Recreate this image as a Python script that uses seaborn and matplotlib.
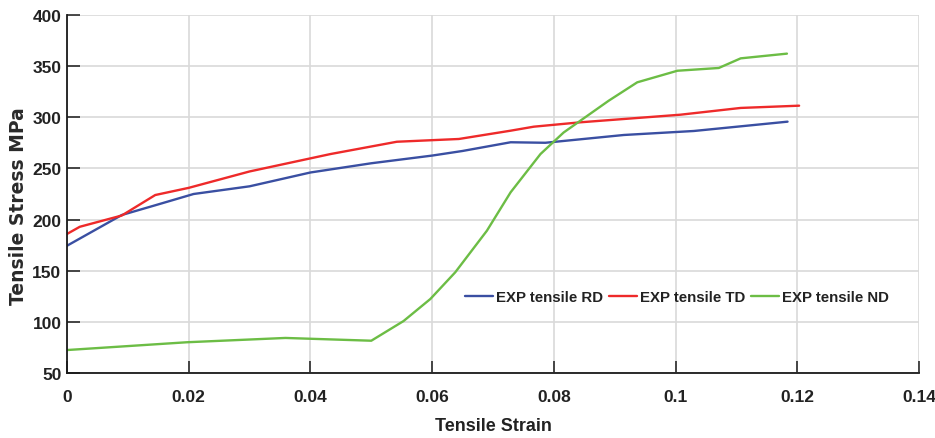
import matplotlib
matplotlib.use("Agg")
import matplotlib.pyplot as plt
import seaborn as sns
import pandas as pd

# ---- data ----
rd_strain = [0.0, 0.009, 0.0145, 0.0208, 0.030, 0.040, 0.050, 0.060, 0.065, 0.0729, 0.0786, 0.0915, 0.103, 0.1184]
rd_stress = [174.5, 204.5, 214.0, 225.0, 232.5, 246.0, 255.0, 262.5, 267.0, 275.5, 275.0, 282.6, 286.5, 295.6]

td_strain = [0.0, 0.0021, 0.009, 0.0145, 0.020, 0.030, 0.0433, 0.0542, 0.0644, 0.0729, 0.0767, 0.0844, 0.1008, 0.1107, 0.1203]
td_stress = [186.0, 193.0, 204.0, 224.0, 231.0, 247.0, 264.0, 276.0, 278.7, 286.8, 290.7, 295.0, 302.4, 309.0, 311.2]

nd_strain = [0.0, 0.0197, 0.0359, 0.050, 0.0553, 0.0597, 0.0638, 0.069, 0.0729, 0.0778, 0.0816, 0.089, 0.0937, 0.1003, 0.1071, 0.1107, 0.1183]
nd_stress = [72.7, 80.3, 84.5, 81.8, 101.0, 122.5, 148.6, 189.2, 226.7, 264.0, 285.0, 316.0, 334.0, 345.3, 348.0, 357.4, 362.0]

series_names = ["EXP tensile RD", "EXP tensile TD", "EXP tensile ND"]
x_ticks = [0, 0.02, 0.04, 0.06, 0.08, 0.1, 0.12, 0.14]
x_tick_labels = ["0", "0.02", "0.04", "0.06", "0.08", "0.1", "0.12", "0.14"]
y_ticks = [50, 100, 150, 200, 250, 300, 350, 400]

df = pd.concat([
    pd.DataFrame({"strain": rd_strain, "stress": rd_stress, "series": series_names[0]}),
    pd.DataFrame({"strain": td_strain, "stress": td_stress, "series": series_names[1]}),
    pd.DataFrame({"strain": nd_strain, "stress": nd_stress, "series": series_names[2]}),
], ignore_index=True)

sns.set_theme(style="white")
main_font = ["Liberation Sans", "DejaVu Sans"]
plt.rcParams["font.family"] = main_font

fig = plt.figure(figsize=(9.35, 4.39), dpi=100)
ax = fig.add_axes([67 / 935, (439 - 374.3) / 439, (919 - 67) / 935, (374.3 - 15.7) / 439])

palette = {series_names[0]: "#3a4fa2", series_names[1]: "#ee2a2a", series_names[2]: "#6cbd45"}
sns.lineplot(data=df, x="strain", y="stress", hue="series", palette=palette,
             sort=False, estimator=None, linewidth=1.7, ax=ax)

ax.set_xlim(0, 0.14)
ax.set_ylim(50, 400)
ax.set_xticks(x_ticks)
ax.set_xticklabels(x_tick_labels)
ax.set_yticks(y_ticks)

ax.grid(True, color="#d9d9d9", linewidth=1.2)
ax.set_axisbelow(True)
for s in ["top", "right"]:
    ax.spines[s].set_visible(False)
for s in ["left", "bottom"]:
    ax.spines[s].set_color("#1a1a1a")
    ax.spines[s].set_linewidth(1.3)

ax.tick_params(axis="both", direction="in", length=9, width=1.1, color="#1a1a1a",
               labelsize=12.5, labelcolor="#222222", left=True, bottom=True)
ax.tick_params(axis="x", pad=11)
ax.tick_params(axis="y", pad=4)
for lab in ax.get_xticklabels() + ax.get_yticklabels():
    lab.set_fontweight("bold")

ax.set_xlabel("Tensile Strain", fontsize=13, fontweight="bold", color="#222222", labelpad=10)
ax.set_ylabel("Tensile Stress MPa", fontsize=13.5, fontweight="bold", color="#2a2a2a",
              family=["DejaVu Sans"])
ax.yaxis.set_label_coords(-0.046, 0.469)

leg = ax.legend(loc="center", bbox_to_anchor=(0.716, 0.213), ncol=3, frameon=False,
                handlelength=1.9, handletextpad=0.2, columnspacing=0.35,
                prop={"family": main_font, "weight": "bold", "size": 10.8})
for t in leg.get_texts():
    t.set_color("#222222")
for h in leg.get_lines():
    h.set_linewidth(1.7)

fig.savefig("out.png", dpi=100)
